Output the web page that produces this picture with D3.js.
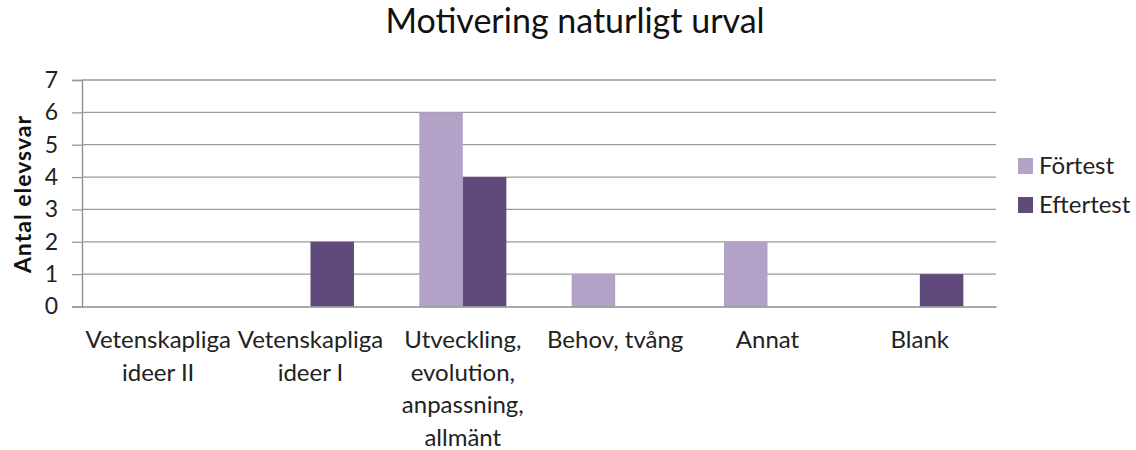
<!DOCTYPE html>
<html><head><meta charset="utf-8">
<script src="https://cdn.jsdelivr.net/npm/d3@7"></script>
<style>body{margin:0;background:#fff;} svg{display:block;}</style>
</head><body>
<svg id="chart" width="1136" height="450"></svg>
<script>
const categories = [
  ["Vetenskapliga","ideer II"],
  ["Vetenskapliga","ideer I"],
  ["Utveckling,","evolution,","anpassning,","allmänt"],
  ["Behov, tvång"],
  ["Annat"],
  ["Blank"]
];
const seriesNames = ["Förtest","Eftertest"];
const fortest = [0,0,6,1,2,0];
const eftertest = [0,2,4,0,0,1];
const yTicks = [0,1,2,3,4,5,6,7];
const colors = ["#B3A2C7","#604A7B"];
const chartTitle = "Motivering naturligt urval";
const yTitle = "Antal elevsvar";

(function(){
const svg = d3.select("#chart");
const font = "Lato, 'Open Sans', sans-serif";
const pLeft = 82, pRight = 996, pTop = 80, pBottom = 306.5;
const catIdx = categories.map((c,i)=>i);
const x0 = d3.scaleBand().domain(catIdx).range([pLeft,pRight]).paddingInner(0).paddingOuter(0);
const x1 = d3.scaleBand().domain(seriesNames).range([0,x0.bandwidth()]).paddingInner(0).paddingOuter(0.75);
const y = d3.scaleLinear().domain([0,7]).range([pBottom,pTop]);

const yAxis = d3.axisLeft(y).tickValues(yTicks).tickSize(10).tickPadding(14).tickFormat(d3.format("d"));
const gy = svg.append("g").attr("transform",`translate(${pLeft},0)`).call(yAxis);
gy.select(".domain").attr("stroke","#8c8c8c").attr("stroke-width",1.3);
gy.selectAll(".tick line").attr("stroke","#9a9a9a").attr("stroke-width",1.3);
gy.selectAll(".tick text").attr("font-family",font).attr("font-size",23).attr("fill","#222");
svg.append("g").selectAll("line").data(yTicks.filter(d=>d>0)).join("line")
  .attr("x1",pLeft).attr("x2",pRight).attr("y1",d=>y(d)).attr("y2",d=>y(d))
  .attr("stroke","#9a9a9a").attr("stroke-width",1.3);

const data = [fortest, eftertest];
const groups = svg.append("g").selectAll("g").data(catIdx).join("g")
  .attr("transform",i=>`translate(${x0(i)},0)`);
groups.selectAll("rect").data(i=>seriesNames.map((s,k)=>({s,k,v:data[k][i]})).filter(d=>d.v>0)).join("rect")
  .attr("x",d=>x1(d.s)).attr("width",x1.bandwidth())
  .attr("y",d=>y(d.v)).attr("height",d=>y(0)-y(d.v))
  .attr("fill",d=>colors[d.k]);

const xAxis = d3.axisBottom(x0).tickSize(0).tickFormat("");
const gx = svg.append("g").attr("transform",`translate(0,${pBottom})`).call(xAxis);
gx.select(".domain").attr("stroke","#8c8c8c").attr("stroke-width",1.3);

const lab = svg.append("g").selectAll("text").data(catIdx).join("text")
  .attr("x",i=>x0(i)+x0.bandwidth()/2).attr("y",348)
  .attr("text-anchor","middle").attr("font-family",font).attr("font-size",24).attr("fill","#222");
lab.selectAll("tspan").data(i=>categories[i].map(t=>({t,i}))).join("tspan")
  .attr("x",d=>x0(d.i)+x0.bandwidth()/2).attr("dy",(d,j)=>j===0?0:32.5).text(d=>d.t);

svg.append("text").attr("x",575).attr("y",33).attr("text-anchor","middle")
  .attr("font-family",font).attr("font-size",34).attr("fill","#111").text(chartTitle);

svg.append("text").attr("transform","translate(31,194) rotate(-90)").attr("text-anchor","middle")
  .attr("font-family",font).attr("font-size",23).attr("font-weight","bold").attr("letter-spacing",1)
  .attr("fill","#111").text(yTitle);

const lg = svg.append("g").selectAll("g").data(seriesNames).join("g")
  .attr("transform",(d,i)=>`translate(1018,${158+i*39})`);
lg.append("rect").attr("width",15).attr("height",16).attr("fill",(d,i)=>colors[i]);
lg.append("text").attr("x",21).attr("y",16).attr("font-family",font).attr("font-size",24).attr("fill","#222").text(d=>d);
})();
</script>
</body></html>
